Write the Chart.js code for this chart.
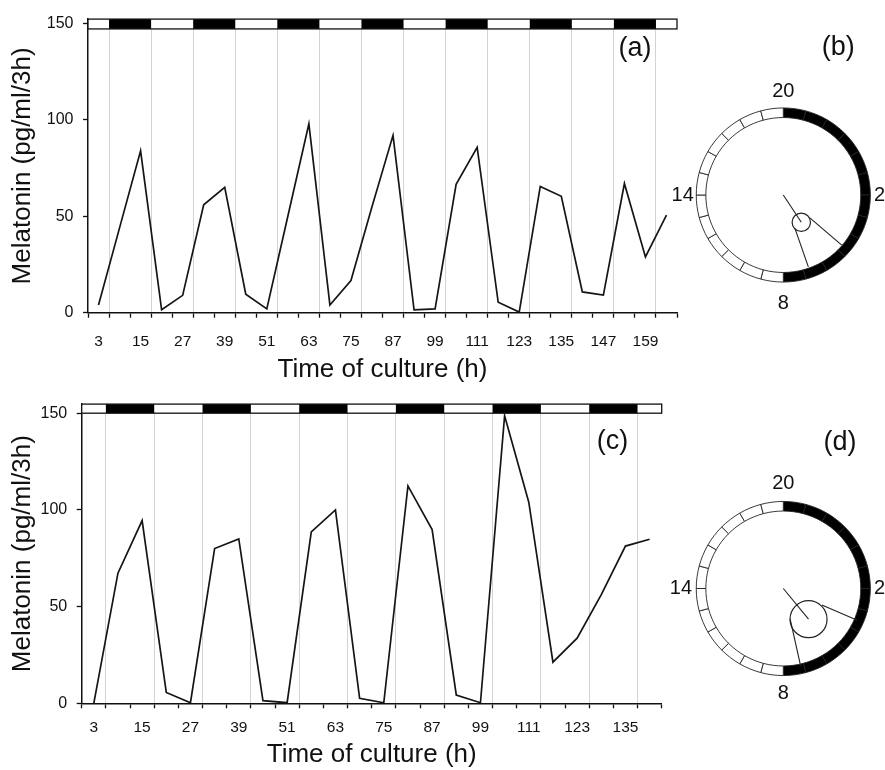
<!DOCTYPE html>
<html>
<head>
<meta charset="utf-8">
<script src="https://cdn.jsdelivr.net/npm/chart.js@4.4.0/dist/chart.umd.min.js"></script>
<style>
html, body { margin: 0; padding: 0; background: #fff; }
body { width: 885px; height: 770px; position: relative; overflow: hidden; }
canvas { position: absolute; }
</style>
</head>
<body>
<canvas id="chartA" width="692" height="385" style="left:0;top:0"></canvas>
<canvas id="ringB" width="225" height="385" style="left:660px;top:0"></canvas>
<canvas id="vecB" width="225" height="385" style="left:660px;top:0"></canvas>
<canvas id="chartC" width="690" height="385" style="left:0;top:385px"></canvas>
<canvas id="ringD" width="225" height="385" style="left:660px;top:385px"></canvas>
<canvas id="vecD" width="225" height="385" style="left:660px;top:385px"></canvas>
<script>
var FONT = "'Liberation Sans', Arial, Helvetica, sans-serif";

// panel (a): melatonin every 6 h
var hoursA = [3, 9, 15, 21, 27, 33, 39, 45, 51, 57, 63, 69, 75, 81, 87, 93, 99, 105, 111, 117, 123, 129, 135, 141, 147, 153, 159, 165];
var melatoninA = [4, 44, 84, 1.5, 9, 56, 65, 9.6, 2, 50, 98, 4, 16.7, 55, 92, 1.5, 2, 66.6, 85.8, 5.4, 0.3, 65.5, 60.4, 10.8, 9.1, 67, 28.9, 50.6];
var labelHoursA = [3, 15, 27, 39, 51, 63, 75, 87, 99, 111, 123, 135, 147, 159];
var darkA = [[6, 18], [30, 42], [54, 66], [78, 90], [102, 114], [126, 138], [150, 162]];

// panel (c)
var hoursC = [3, 9, 15, 21, 27, 33, 39, 45, 51, 57, 63, 69, 75, 81, 87, 93, 99, 105, 111, 117, 123, 129, 135, 141];
var melatoninC = [0, 67.3, 94.5, 5.6, 0.3, 80, 85, 1.4, 0.3, 88.6, 100, 2.6, 0.3, 112.4, 89.8, 4.3, 0.3, 148.7, 104, 21.3, 33.7, 56.2, 81.3, 84.8];
var labelHoursC = [3, 15, 27, 39, 51, 63, 75, 87, 99, 111, 123, 135];
var darkC = [[6, 18], [30, 42], [54, 66], [78, 90], [102, 114], [126, 138]];

var yTicks = [0, 50, 100, 150];

// circular plots: clock ring starting at 20 h, clockwise
var ringHours = [20, 21, 22, 23, 0, 1, 2, 3, 4, 5, 6, 7, 8, 9, 10, 11, 12, 13, 14, 15, 16, 17, 18, 19];
var ringSpan = [1, 1, 1, 1, 1, 1, 1, 1, 1, 1, 1, 1, 1, 1, 1, 1, 1, 1, 1, 1, 1, 1, 1, 1];
var darkHours = [20, 21, 22, 23, 0, 1, 2, 3, 4, 5, 6, 7];
var clockLabels = ['20', '2', '8', '14'];
var clockLabelHours = [20, 2, 8, 14];

// (b) mean acrophase vector and confidence limits
var meanHourB = 5.77, meanLenB = 0.373;
var ciHoursB = [4.71, 6.72], ciStartB = [0.40, 0.41], ciEndB = [0.88, 0.87];
// (d)
var meanHourD = 5.37, meanLenD = 0.454;
var ciHoursD = [3.55, 7.16], ciStartD = [0.48, 0.36], ciEndD = [0.92, 0.91];

function polar(hour, r) {
  var a = (hour - 20) / 24 * 2 * Math.PI;
  return { x: r * Math.sin(a), y: r * Math.cos(a) };
}

var lightDarkBar = {
  id: 'lightDarkBar',
  beforeDatasetsDraw: function(chart, args, o) {
    var x = chart.scales.x, y = chart.scales.y, ctx = chart.ctx;
    var top = y.getPixelForValue(o.high), bot = y.getPixelForValue(o.low);
    var left = x.getPixelForValue(x.min), right = x.getPixelForValue(x.max);
    ctx.save();
    ctx.fillStyle = '#fff';
    ctx.fillRect(left, top, right - left, bot - top);
    ctx.fillStyle = '#000';
    o.dark.forEach(function(d) {
      var a = x.getPixelForValue(d[0]), b = x.getPixelForValue(d[1]);
      ctx.fillRect(a, top, b - a, bot - top);
    });
    ctx.strokeStyle = '#111';
    ctx.lineWidth = 1.3;
    ctx.strokeRect(left, top, right - left, bot - top);
    ctx.restore();
  }
};

var panelLabel = {
  id: 'panelLabel',
  afterDraw: function(chart, args, o) {
    var ctx = chart.ctx;
    ctx.save();
    ctx.font = '27px ' + FONT;
    ctx.fillStyle = '#111';
    ctx.textAlign = 'center';
    ctx.textBaseline = 'middle';
    ctx.fillText(o.text, o.x, o.y);
    ctx.restore();
  }
};

var clockText = {
  id: 'clockText',
  afterDraw: function(chart, args, o) {
    var ctx = chart.ctx, sx = chart.scales.x, sy = chart.scales.y;
    ctx.save();
    ctx.font = '20px ' + FONT;
    ctx.fillStyle = '#111';
    ctx.textAlign = 'center';
    ctx.textBaseline = 'middle';
    clockLabelHours.forEach(function(h, i) {
      var p = polar(h, o.radii[i]);
      ctx.fillText(clockLabels[i], sx.getPixelForValue(p.x), sy.getPixelForValue(p.y));
    });
    ctx.restore();
  }
};

function melatoninChart(id, hours, values, labels, dark, g) {
  var boundary = function(v) {
    return dark.some(function(d) { return d[0] === v || d[1] === v; });
  };
  return new Chart(document.getElementById(id), {
    type: 'line',
    data: {
      datasets: [{
        data: hours.map(function(h, i) { return { x: h, y: values[i] }; }),
        borderColor: '#151515',
        borderWidth: 1.7,
        pointRadius: 0,
        tension: 0,
        fill: false
      }]
    },
    options: {
      responsive: false,
      animation: false,
      events: [],
      layout: { padding: { top: g.top, right: g.right, left: 0, bottom: 0 } },
      plugins: {
        legend: { display: false },
        tooltip: { enabled: false },
        lightDarkBar: { low: g.barLow, high: g.barHigh, dark: dark },
        panelLabel: { text: g.label, x: g.labelX, y: g.labelY }
      },
      scales: {
        x: {
          type: 'linear', min: 0, max: g.xMax,
          afterBuildTicks: function(s) {
            s.ticks = [];
            for (var h = 0; h <= g.xMax; h += 3) s.ticks.push({ value: h });
          },
          afterFit: function(s) { s.height = g.xHeight; },
          ticks: {
            autoSkip: false, maxRotation: 0, minRotation: 0,
            padding: g.xPad,
            color: '#111',
            font: { family: FONT, size: 15.5 },
            callback: function(v) { return labels.indexOf(v) >= 0 ? String(v) : ''; }
          },
          grid: {
            color: function(c) { return c.tick && boundary(c.tick.value) ? '#d3d3d3' : 'rgba(0,0,0,0)'; },
            tickColor: function(c) { return c.tick && c.tick.value % 6 === 0 ? '#111' : 'rgba(0,0,0,0)'; },
            tickLength: 5,
            tickWidth: 1.3,
            lineWidth: 1
          },
          border: { color: '#111', width: 1.5 },
          title: {
            display: true, text: 'Time of culture (h)', color: '#111',
            font: { family: FONT, size: 26, lineHeight: 1.2 },
            padding: { top: 0, bottom: g.xTitlePad }
          }
        },
        y: {
          min: 0, max: g.yMax,
          afterBuildTicks: function(s) { s.ticks = yTicks.map(function(v) { return { value: v }; }); },
          afterFit: function(s) { s.width = g.yWidth; },
          ticks: { padding: 9.5, color: '#111', font: { family: FONT, size: 16 } },
          grid: { drawOnChartArea: false, tickLength: 5, tickColor: '#111', tickWidth: 1.3 },
          border: { color: '#111', width: 1.5 },
          title: {
            display: true, text: 'Melatonin (pg/ml/3h)', color: '#111',
            font: { family: FONT, size: 26, lineHeight: 1.2 },
            padding: { top: 7, bottom: 0 }
          }
        }
      }
    },
    plugins: [lightDarkBar, panelLabel]
  });
}

function ringChart(id, pad) {
  return new Chart(document.getElementById(id), {
    type: 'doughnut',
    data: {
      labels: ringHours.map(String),
      datasets: [{
        data: ringSpan,
        backgroundColor: ringHours.map(function(h) { return darkHours.indexOf(h) >= 0 ? '#000' : '#fff'; }),
        borderColor: '#222',
        borderWidth: 0.9
      }]
    },
    options: {
      responsive: false, animation: false, events: [],
      cutout: '89%',
      layout: { padding: pad, autoPadding: false },
      plugins: { legend: { display: false }, tooltip: { enabled: false } }
    }
  });
}

function vectorChart(id, pad, meanHour, meanLen, circleR, ciHours, ciStart, ciEnd, label, lx, ly, radii) {
  var tip = polar(meanHour, meanLen);
  var line = function(pts) {
    return { data: pts, showLine: true, borderColor: '#222', borderWidth: 1.1, pointRadius: 0 };
  };
  return new Chart(document.getElementById(id), {
    type: 'scatter',
    data: {
      datasets: [
        line([{ x: 0, y: 0 }, tip]),
        { data: [tip], showLine: false, pointRadius: circleR, pointStyle: 'circle',
          pointBackgroundColor: 'rgba(0,0,0,0)', pointBorderColor: '#222', pointBorderWidth: 1.2 },
        line([polar(ciHours[0], ciStart[0]), polar(ciHours[0], ciEnd[0])]),
        line([polar(ciHours[1], ciStart[1]), polar(ciHours[1], ciEnd[1])])
      ]
    },
    options: {
      responsive: false, animation: false, events: [],
      layout: { padding: pad, autoPadding: false },
      scales: {
        x: { type: 'linear', min: -1, max: 1, display: false },
        y: { type: 'linear', min: -1, max: 1, display: false }
      },
      plugins: {
        legend: { display: false }, tooltip: { enabled: false },
        clockText: { radii: radii },
        panelLabel: { text: label, x: lx, y: ly }
      }
    },
    plugins: [clockText, panelLabel]
  });
}

melatoninChart('chartA', hoursA, melatoninA, labelHoursA, darkA, {
  top: 13.3, right: 15, yWidth: 88, xHeight: 72.3, xMax: 168, yMax: 152.3,
  barLow: 147.2, barHigh: 152.3, xPad: 15, xTitlePad: 0,
  label: '(a)', labelX: 635, labelY: 49
});
melatoninChart('chartC', hoursC, melatoninC, labelHoursC, darkC, {
  top: 15.7, right: 28.3, yWidth: 81.7, xHeight: 66.7, xMax: 144, yMax: 154.7,
  barLow: 150, barHigh: 154.7, xPad: 10, xTitlePad: 0,
  label: '(c)', labelX: 612.5, labelY: 56.7
});

var padB = { left: 35.8, right: 14.2, top: 107.5, bottom: 102.5 };
var padD = { left: 35.8, right: 14.2, top: 116, bottom: 94 };
ringChart('ringB', padB);
ringChart('ringD', padD);
vectorChart('vecB', padB, meanHourB, meanLenB, 9.2, ciHoursB, ciStartB, ciEndB, '(b)', 178.3, 47.5, [1.18, 1.1, 1.24, 1.15]);
vectorChart('vecD', padD, meanHourD, meanLenD, 18.5, ciHoursD, ciStartD, ciEndD, '(d)', 180, 57.5, [1.2, 1.1, 1.2, 1.17]);
</script>
</body>
</html>
